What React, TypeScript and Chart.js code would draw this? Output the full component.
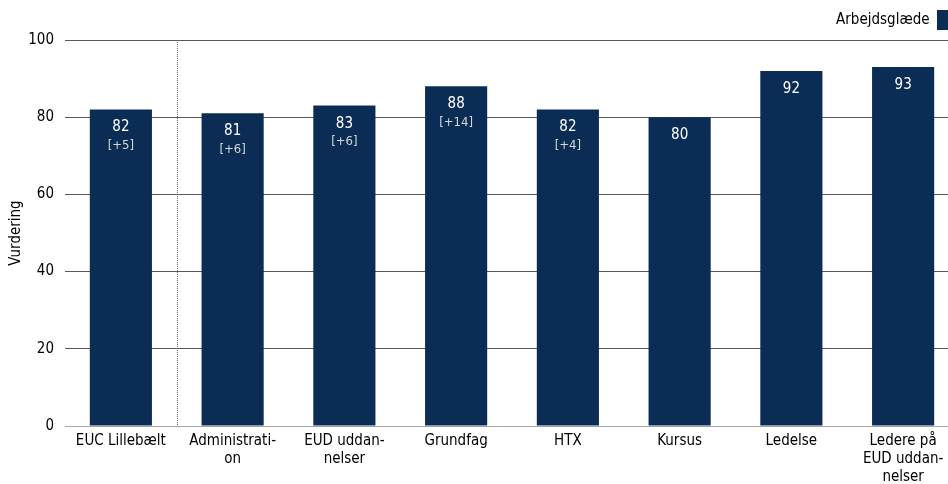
import React, { useEffect, useRef } from "react";
import { Chart, registerables } from "chart.js";

Chart.register(...registerables);

const categories: (string | string[])[] = [
  "EUC Lillebælt",
  ["Administrati-", "on"],
  ["EUD uddan-", "nelser"],
  "Grundfag",
  "HTX",
  "Kursus",
  "Ledelse",
  ["Ledere på", "EUD uddan-", "nelser"],
];
const values = [82, 81, 83, 88, 82, 80, 92, 93];
const deltas: (string | null)[] = ["[+5]", "[+6]", "[+6]", "[+14]", "[+4]", null, null, null];
const yTicks = [0, 20, 40, 60, 80, 100];
const seriesName = "Arbejdsglæde";
const axisTitle = "Vurdering";

const FONT = "'DejaVu Sans Condensed', 'DejaVu Sans', sans-serif";
const BAR = "#0b2d55";

const labelPlugin = {
  id: "barLabels",
  afterDatasetsDraw(chart: any) {
    const ctx = chart.ctx;
    const meta = chart.getDatasetMeta(0);
    ctx.save();
    ctx.textAlign = "center";
    ctx.textBaseline = "middle";
    meta.data.forEach((bar: any, i: number) => {
      ctx.fillStyle = "#ffffff";
      ctx.font = `15px ${FONT}`;
      ctx.fillText(String(values[i]), bar.x, bar.y + 18);
      if (deltas[i]) {
        ctx.fillStyle = "#d6d6d6";
        ctx.font = `13px ${FONT}`;
        ctx.fillText(deltas[i] as string, bar.x, bar.y + 36);
      }
    });
    ctx.restore();
  },
};

const dividerPlugin = {
  id: "divider",
  afterDatasetsDraw(chart: any) {
    const x = chart.scales.x;
    const area = chart.chartArea;
    const px = Math.round((x.getPixelForValue(0) + x.getPixelForValue(1)) / 2) + 0.5;
    const ctx = chart.ctx;
    ctx.save();
    ctx.strokeStyle = "#6f6f6f";
    ctx.lineWidth = 1;
    ctx.setLineDash([1, 1]);
    ctx.beginPath();
    ctx.moveTo(px, area.top);
    ctx.lineTo(px, area.bottom);
    ctx.stroke();
    ctx.restore();
  },
};

export default function App() {
  const ref = useRef<HTMLCanvasElement>(null);
  useEffect(() => {
    document.body.style.margin = "0";
    const chart = new Chart(ref.current!, {
      type: "bar",
      data: {
        labels: categories as any,
        datasets: [
          {
            label: seriesName,
            data: values,
            backgroundColor: BAR,
            borderWidth: 0,
            barPercentage: 0.556,
            categoryPercentage: 1,
          },
        ],
      },
      options: {
        animation: false,
        responsive: false,
        layout: { padding: { left: 0, right: 0, top: 0, bottom: 0 } },
        plugins: {
          tooltip: { enabled: false },
          legend: {
            display: true,
            position: "top",
            align: "start",
            rtl: true,
            labels: {
              boxWidth: 12,
              boxHeight: 20,
              padding: 10,
              color: "#000",
              font: { family: FONT, size: 15 },
            },
          },
        },
        scales: {
          x: {
            grid: { display: false, drawTicks: false },
            border: { display: true, color: "#a6a6a6" },
            afterFit(scale: any) {
              scale.height = 58;
            },
            ticks: {
              color: "#000",
              font: { family: FONT, size: 15, lineHeight: 1.2 },
              maxRotation: 0,
              autoSkip: false,
              padding: 6,
            },
          },
          y: {
            min: 0,
            max: 100,
            afterBuildTicks(scale: any) {
              scale.ticks = yTicks.map((v) => ({ value: v }));
            },
            afterFit(scale: any) {
              scale.width = 65;
            },
            grid: {
              drawTicks: false,
              color: (c: any) => (c.tick && c.tick.value === 0 ? "#a6a6a6" : "#595959"),
            },
            border: { display: false },
            ticks: {
              color: "#000",
              font: { family: FONT, size: 15 },
              padding: 11,
            },
            title: {
              display: true,
              text: axisTitle,
              color: "#000",
              font: { family: FONT, size: 15, lineHeight: 1.2 },
              padding: { top: 7, bottom: 3 },
            },
          },
        },
      },
      plugins: [labelPlugin, dividerPlugin],
    });
    return () => chart.destroy();
  }, []);
  return (
    <div style={{ width: 948, height: 484, overflow: "hidden" }}>
      <canvas ref={ref} width={959} height={484} style={{ display: "block" }} />
    </div>
  );
}
